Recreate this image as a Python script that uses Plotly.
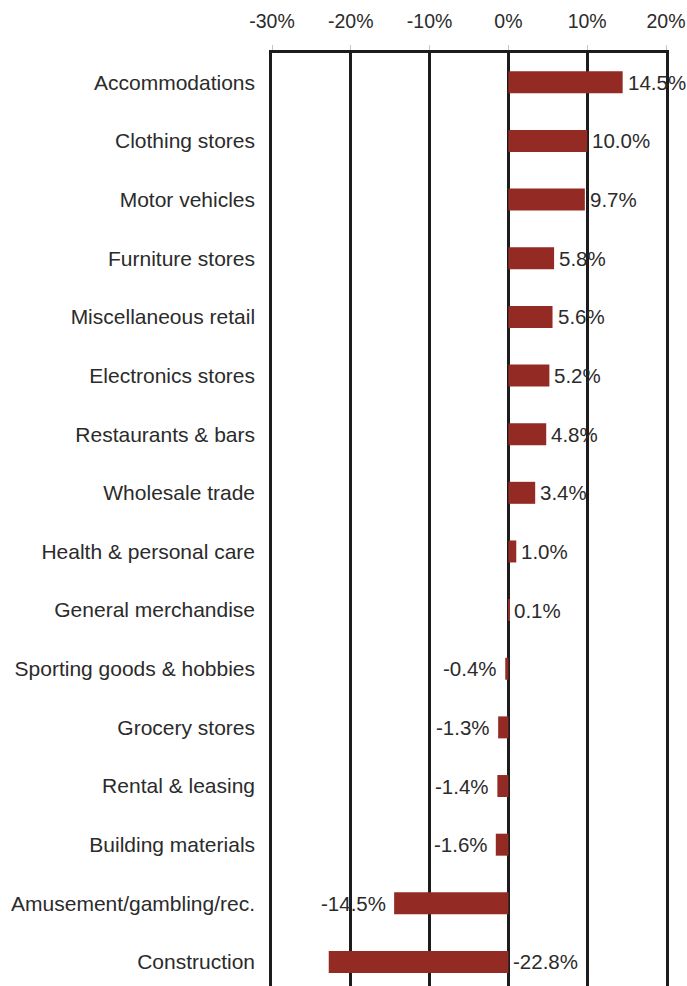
import plotly.graph_objects as go

# Year-over-year change by industry (percent)
categories = [
    "Accommodations", "Clothing stores", "Motor vehicles", "Furniture stores",
    "Miscellaneous retail", "Electronics stores", "Restaurants & bars",
    "Wholesale trade", "Health & personal care", "General merchandise",
    "Sporting goods & hobbies", "Grocery stores", "Rental & leasing",
    "Building materials", "Amusement/gambling/rec.", "Construction",
]
changes = [14.5, 10.0, 9.7, 5.8, 5.6, 5.2, 4.8, 3.4, 1.0, 0.1,
           -0.4, -1.3, -1.4, -1.6, -14.5, -22.8]
tick_values = [-30, -20, -10, 0, 10, 20]
tick_labels = ["-30%", "-20%", "-10%", "0%", "10%", "20%"]

BAR = "#932a24"
TEXT = "#2b2b2b"
LINE = "#1c1c1c"
FONT = "Liberation Sans, Arial, sans-serif"

fig = go.Figure(go.Bar(
    x=changes, y=categories, orientation="h",
    marker=dict(color=BAR, line=dict(width=0)),
    width=0.375,
))

# Value labels: outside the bar end, or beside the zero line when the bar
# runs too far left to fit its label
annotations = []
for cat, v in zip(categories, changes):
    if v >= 0:
        ax, anchor, shift = v, "left", 3
    elif v < -20:
        ax, anchor, shift = 0, "left", 3
    else:
        ax, anchor, shift = v, "right", -6
    annotations.append(dict(
        x=ax, y=cat, text=f"{v:.1f}%", showarrow=False,
        xanchor=anchor, xshift=shift, yanchor="middle",
        font=dict(family=FONT, size=20.5, color=TEXT),
    ))

fig.update_layout(
    width=687, height=986,
    margin=dict(l=272, r=21, t=53, b=0),
    paper_bgcolor="white", plot_bgcolor="white",
    showlegend=False,
    annotations=annotations,
    font=dict(family=FONT, size=20, color=TEXT),
    xaxis=dict(
        side="top", range=[-30, 20],
        tickvals=tick_values, ticktext=tick_labels,
        showgrid=True, gridcolor=LINE, gridwidth=2.5,
        zeroline=False,
        showline=True, linecolor=LINE, linewidth=2.5,
        ticks="outside", ticklen=5, tickcolor="#c4c4c4", tickwidth=1,
        ticklabelstandoff=9,
        tickfont=dict(family=FONT, size=19.5, color=TEXT),
        fixedrange=True,
    ),
    yaxis=dict(
        range=[15.41, -0.5],
        showgrid=False, zeroline=False,
        # left and right frame edges at -30% and 20%
        showline=True, mirror=True, linecolor=LINE, linewidth=2.5,
        ticks="", ticklabelstandoff=10,
        tickfont=dict(family=FONT, size=21, color=TEXT),
        fixedrange=True,
    ),
)

fig.write_html("out.html")
